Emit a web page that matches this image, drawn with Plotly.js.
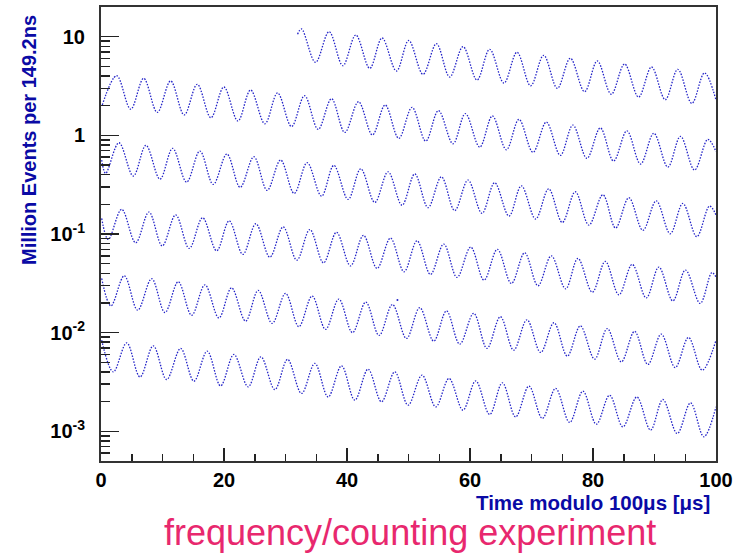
<!DOCTYPE html>
<html>
<head>
<meta charset="utf-8">
<script src="https://cdn.plot.ly/plotly-3.0.1.min.js"></script>
<style>html,body{margin:0;padding:0;background:#fff;}#chart{width:738px;height:553px;}</style>
</head>
<body>
<div id="chart"></div>
<script>
// Extrema (peaks / troughs), per 100 µs sweep
const sweep1X = [31.96, 32.61, 34.88, 37.09, 39.32, 41.43, 43.70, 45.70, 48.04, 50.04, 52.36, 54.54, 56.70, 58.87, 61.14, 63.20, 65.52, 67.64, 69.86, 71.98, 74.20, 76.31, 78.63, 80.70, 82.97, 85.13, 87.41, 89.52, 91.75, 93.79, 96.07, 98.13, 100];
const sweep1Y = [10.6, 11.97, 5.50, 11.24, 5.08, 10.4, 4.78, 9.70, 4.49, 9.15, 4.16, 8.49, 3.90, 7.92, 3.64, 7.45, 3.39, 6.95, 3.18, 6.48, 3.00, 6.04, 2.77, 5.67, 2.61, 5.29, 2.44, 4.93, 2.30, 4.67, 2.11, 4.29, 2.28];

const sweep2X = [0.21, 2.55, 4.83, 6.94, 9.15, 11.32, 13.53, 15.65, 17.87, 19.98, 22.26, 24.32, 26.65, 28.71, 30.98, 33.10, 35.31, 37.48, 39.64, 41.87, 44.14, 46.20, 48.42, 50.58, 52.80, 54.87, 57.24, 59.25, 61.58, 63.64, 65.91, 67.96, 70.24, 72.41, 74.69, 76.73, 79.01, 81.19, 83.35, 85.51, 87.73, 89.89, 92.17, 94.23, 96.51, 98.67, 100];
const sweep2Y = [2.03, 4.02, 1.84, 3.78, 1.71, 3.56, 1.61, 3.29, 1.51, 3.09, 1.40, 2.88, 1.31, 2.69, 1.23, 2.52, 1.15, 2.35, 1.07, 2.19, 1.01, 2.03, 0.933, 1.92, 0.875, 1.78, 0.822, 1.66, 0.760, 1.57, 0.714, 1.45, 0.673, 1.36, 0.627, 1.27, 0.585, 1.19, 0.549, 1.11, 0.512, 1.05, 0.477, 0.977, 0.445, 0.910, 0.683];

const sweep3X = [0.11, 0.76, 2.92, 5.25, 7.31, 9.59, 11.65, 13.92, 16.08, 18.25, 20.47, 22.63, 24.86, 27.02, 29.20, 31.41, 33.52, 35.86, 37.86, 40.18, 42.24, 44.52, 46.68, 48.95, 51.02, 53.18, 55.35, 57.51, 59.68, 61.95, 64.01, 66.34, 68.35, 70.67, 72.79, 75.01, 77.12, 79.33, 81.61, 83.67, 85.83, 88.11, 90.28, 92.56, 94.61, 96.88, 98.94, 100];
const sweep3Y = [0.562, 0.412, 0.841, 0.387, 0.792, 0.360, 0.738, 0.336, 0.693, 0.318, 0.646, 0.297, 0.607, 0.277, 0.562, 0.258, 0.528, 0.242, 0.496, 0.224, 0.458, 0.209, 0.427, 0.196, 0.406, 0.185, 0.380, 0.173, 0.352, 0.162, 0.331, 0.152, 0.308, 0.142, 0.287, 0.131, 0.268, 0.123, 0.250, 0.115, 0.233, 0.109, 0.217, 0.1005, 0.204, 0.094, 0.192, 0.156];

const sweep4X = [0.11, 1.19, 3.36, 5.64, 7.80, 9.96, 12.14, 14.35, 16.52, 18.80, 20.84, 23.07, 25.18, 27.46, 29.62, 31.84, 33.96, 36.18, 38.29, 40.57, 42.68, 44.89, 47.07, 49.28, 51.39, 53.57, 55.73, 57.89, 60.11, 62.28, 64.45, 66.73, 68.89, 71.05, 73.22, 75.55, 77.55, 79.89, 82.00, 84.21, 86.38, 88.66, 90.71, 92.98, 95.04, 97.43, 99.32, 100];
const sweep4Y = [0.144, 0.0881, 0.178, 0.0815, 0.167, 0.0759, 0.156, 0.0714, 0.146, 0.0676, 0.136, 0.0621, 0.127, 0.0583, 0.118, 0.0543, 0.111, 0.0510, 0.104, 0.0475, 0.0968, 0.0448, 0.0908, 0.0414, 0.0853, 0.0389, 0.0791, 0.0363, 0.0737, 0.0341, 0.0698, 0.0315, 0.0645, 0.0299, 0.0601, 0.0278, 0.0565, 0.0257, 0.0527, 0.0242, 0.0492, 0.0225, 0.0462, 0.0210, 0.0431, 0.0198, 0.0405, 0.0368];

const sweep5X = [0.11, 1.62, 3.79, 5.96, 8.24, 10.40, 12.56, 14.74, 16.90, 19.17, 21.23, 23.51, 25.56, 27.83, 30.01, 32.17, 34.33, 36.51, 38.67, 40.89, 43.05, 45.22, 47.39, 49.67, 51.83, 54.10, 56.17, 58.33, 60.60, 62.76, 64.94, 67.10, 69.26, 71.49, 73.65, 75.82, 77.94, 80.26, 82.32, 84.60, 86.76, 88.92, 91.10, 93.37, 95.53, 97.76, 100];
const sweep5Y = [0.0355, 0.0187, 0.0377, 0.0169, 0.0352, 0.0160, 0.0328, 0.0150, 0.0305, 0.0141, 0.0285, 0.0131, 0.0268, 0.0124, 0.0250, 0.0115, 0.0235, 0.0108, 0.0219, 0.0100, 0.0204, 0.00937, 0.0193, 0.00873, 0.0179, 0.00820, 0.0166, 0.00764, 0.0157, 0.00692, 0.0145, 0.00664, 0.0135, 0.00630, 0.0126, 0.00578, 0.0117, 0.00539, 0.0110, 0.00506, 0.0103, 0.00476, 0.00966, 0.00443, 0.00894, 0.00417, 0.00839];

const sweep6X = [0.11, 2.00, 4.18, 6.34, 8.50, 10.67, 12.95, 15.11, 17.27, 19.45, 21.61, 23.93, 26.00, 28.27, 30.33, 32.61, 34.77, 36.93, 39.11, 41.27, 43.43, 45.61, 47.77, 49.93, 52.20, 54.43, 56.59, 58.86, 60.93, 63.20, 65.26, 67.42, 69.59, 71.76, 73.92, 76.20, 78.36, 80.54, 82.70, 84.86, 87.13, 89.36, 91.36, 93.70, 95.86, 98.02, 100];
const sweep6Y = [0.00839, 0.00400, 0.00788, 0.00356, 0.00735, 0.00335, 0.00692, 0.00322, 0.00649, 0.00289, 0.00601, 0.00282, 0.00569, 0.00265, 0.00535, 0.00242, 0.00488, 0.00223, 0.00461, 0.00207, 0.00426, 0.00199, 0.00400, 0.00184, 0.00371, 0.00177, 0.00343, 0.00164, 0.00324, 0.00148, 0.00310, 0.00140, 0.00287, 0.00135, 0.00272, 0.00123, 0.00255, 0.00118, 0.00232, 0.00111, 0.00223, 0.00103, 0.00210, 0.00095, 0.00194, 0.00088, 0.00177];

// a stray bin visible above sweep 5
const strayX = [48.2];
const strayY = [0.0214];

const yTickVals = [0.001, 0.01, 0.1, 1, 10];
const yTickText = ['10<sup>-3</sup>', '10<sup>-2</sup>', '10<sup>-1</sup>', '1', '10'];
const xTickVals = [0, 20, 40, 60, 80, 100];

const yTitle = 'Million Events per 149.2ns';
const xTitle = 'Time modulo 100\u03bcs [\u03bcs]';
const caption = 'frequency/counting experiment';

const LINE_COLOR = 'rgb(35,35,200)';
const sweeps = [[sweep1X, sweep1Y], [sweep2X, sweep2Y], [sweep3X, sweep3Y], [sweep4X, sweep4Y], [sweep5X, sweep5Y], [sweep6X, sweep6Y]];
const traces = sweeps.map(s => ({
  x: s[0], y: s[1], type: 'scatter', mode: 'lines',
  line: {color: LINE_COLOR, width: 1.3, shape: 'spline', smoothing: 1, dash: '1.5px,1.5px'},
  hoverinfo: 'skip', showlegend: false
}));
traces.push({x: strayX, y: strayY, type: 'scatter', mode: 'markers',
  marker: {color: LINE_COLOR, size: 2}, hoverinfo: 'skip', showlegend: false});

const FONT = 'Liberation Sans, Arial, Helvetica, sans-serif';
const layout = {
  width: 738, height: 553,
  margin: {l: 101, r: 22, t: 7, b: 92},
  paper_bgcolor: '#fff', plot_bgcolor: '#fff',
  showlegend: false,
  xaxis: {
    range: [0, 100], tickmode: 'array', tickvals: xTickVals,
    ticks: 'inside', ticklen: 13, tickwidth: 1.5, tickcolor: '#222',
    minor: {dtick: 5, tick0: 0, ticks: 'inside', ticklen: 7, tickwidth: 1.5, tickcolor: '#222', showgrid: false},
    showgrid: false, zeroline: false,
    showline: true, mirror: true, linecolor: '#333', linewidth: 2,
    tickfont: {family: FONT, size: 20, color: '#000', weight: 'bold'},
    ticklabeloverflow: 'allow',
    ticklabelstandoff: 0
  },
  yaxis: {
    type: 'log', range: [Math.log10(5e-4), Math.log10(20)],
    tickmode: 'array', tickvals: yTickVals, ticktext: yTickText,
    ticks: 'inside', ticklen: 18, tickwidth: 1.5, tickcolor: '#222',
    minor: {dtick: 'D1', ticks: 'inside', ticklen: 9, tickwidth: 1.5, tickcolor: '#222', showgrid: false},
    showgrid: false, zeroline: false,
    showline: true, mirror: true, linecolor: '#333', linewidth: 2,
    tickfont: {family: FONT, size: 20, color: '#000', weight: 'bold'},
    ticklabelstandoff: 10
  },
  annotations: [
    {text: yTitle, xref: 'paper', yref: 'paper', x: -0.1162, y: 0.706, xanchor: 'center', yanchor: 'middle',
     textangle: -90, showarrow: false, font: {family: FONT, size: 20, color: '#0a0aa5', weight: 'bold'}},
    {text: xTitle, xref: 'paper', yref: 'paper', x: 0.994, y: -0.0925, xanchor: 'right', yanchor: 'middle',
     showarrow: false, font: {family: FONT, size: 20.5, color: '#0a0aa5', weight: 'bold'}},
    {text: caption, xref: 'paper', yref: 'paper', x: 0.503, y: -0.158, xanchor: 'center', yanchor: 'middle',
     showarrow: false, font: {family: FONT, size: 36, color: '#e8286e'}}
  ]
};

Plotly.newPlot('chart', traces, layout, {staticPlot: true, displayModeBar: false});
</script>
</body>
</html>
